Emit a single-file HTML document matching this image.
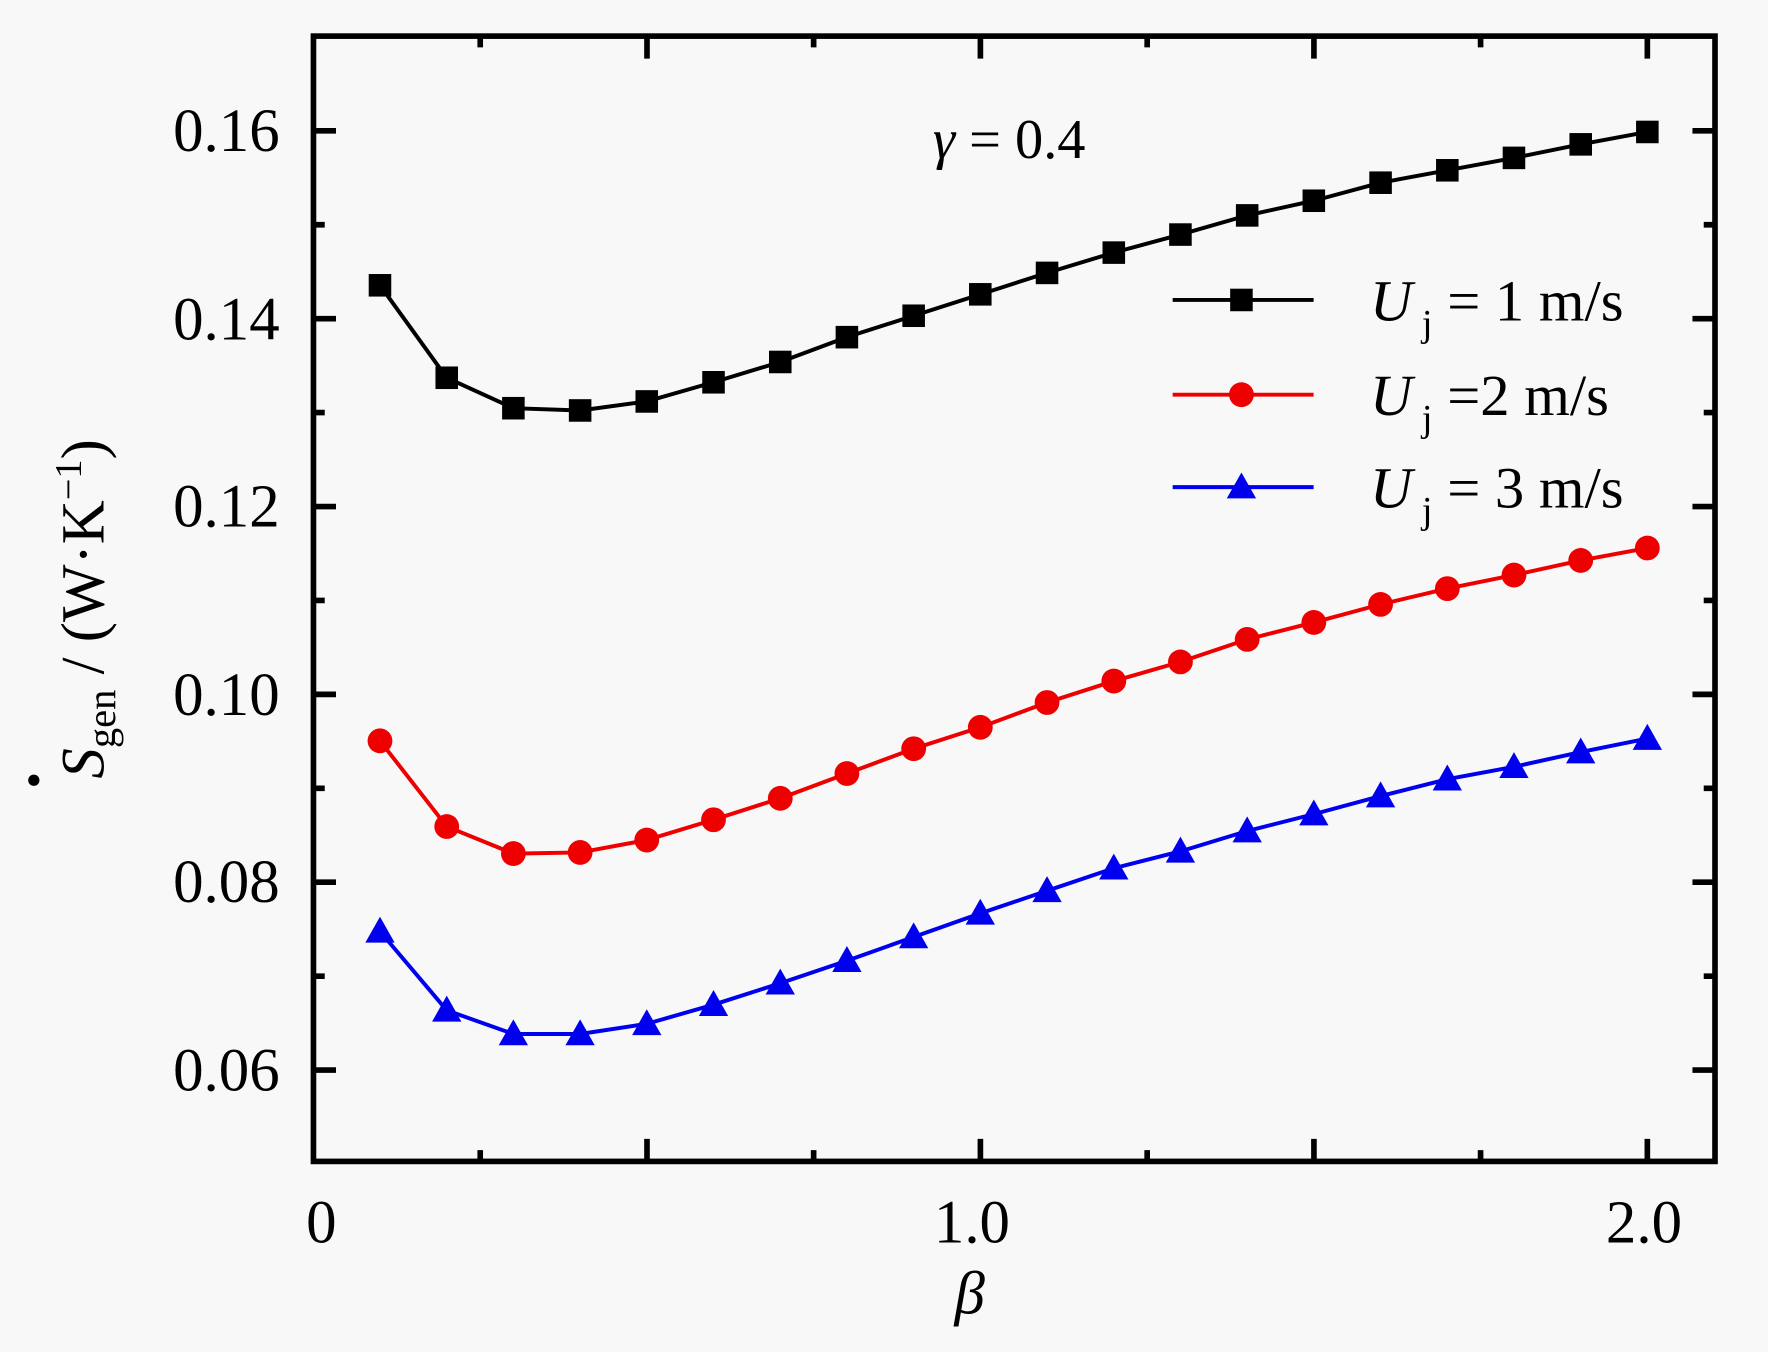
<!DOCTYPE html>
<html><head><meta charset="utf-8"><style>
html,body{margin:0;padding:0;background:#f8f8f8;}
svg{display:block;font-family:"Liberation Serif",serif;}
</style></head><body>
<svg width="1768" height="1352" viewBox="0 0 1568 1199" xmlns="http://www.w3.org/2000/svg">
<defs>
<rect id="sq" x="-10" y="-10" width="20" height="20"/>
<circle id="ci" cx="0" cy="0" r="11"/>
<polygon id="tr" points="0,-13 -13,10 13,10"/>
</defs>
<rect width="1568" height="1199" fill="#f8f8f8"/>
<path stroke="#000" stroke-width="5" fill="none" d="
M425.9,1030V1020 M573.8,1030V1010 M721.6,1030V1020 M869.5,1030V1010 M1017.4,1030V1020 M1165.3,1030V1010 M1313.1,1030V1020 M1461,1030V1010
M425.9,32V42 M573.8,32V52 M721.6,32V42 M869.5,32V52 M1017.4,32V42 M1165.3,32V52 M1313.1,32V42 M1461,32V52
M278,949H298 M278,865.7H288 M278,782.4H298 M278,699.1H288 M278,615.8H298 M278,532.5H288 M278,449.2H298 M278,365.9H288 M278,282.6H298 M278,199.3H288 M278,116H298
M1521,949H1501 M1521,865.7H1511 M1521,782.4H1501 M1521,699.1H1511 M1521,615.8H1501 M1521,532.5H1511 M1521,449.2H1501 M1521,365.9H1511 M1521,282.6H1501 M1521,199.3H1511 M1521,116H1501"/>
<rect x="278" y="32" width="1243" height="998" fill="none" stroke="#000" stroke-width="5"/>

<g fill="none" stroke-width="3.5">
<polyline stroke="#000" points="337,253 396.2,335 455.3,362 514.5,364 573.6,356 632.8,339 692,321 751.1,299 810.3,280 869.4,261 928.6,242 987.8,224 1046.9,208 1106.1,191 1165.2,178 1224.4,162 1283.6,151 1342.7,140 1401.9,128 1461,117"/>
<polyline stroke="#e00" points="337,657 396.2,733 455.3,757 514.5,756 573.6,745 632.8,727 692,708 751.1,686 810.3,664 869.4,645 928.6,623 987.8,604 1046.9,587 1106.1,567 1165.2,552 1224.4,536 1283.6,522 1342.7,510 1401.9,497 1461,486"/>
<polyline stroke="#00e" points="337,826 396.2,896 455.3,917 514.5,917 573.6,908 632.8,891 692,872 751.1,852 810.3,831 869.4,810 928.6,790 987.8,770 1046.9,755 1106.1,737 1165.2,722 1224.4,706 1283.6,691 1342.7,680 1401.9,667 1461,655"/>
<line x1="1040" y1="266" x2="1165" y2="266" stroke="#000"/>
<line x1="1040" y1="350" x2="1165" y2="350" stroke="#e00"/>
<line x1="1040" y1="432" x2="1165" y2="432" stroke="#00e"/>
</g>
<g fill="#000">
<use href="#sq" x="337" y="253"/><use href="#sq" x="396.2" y="335"/><use href="#sq" x="455.3" y="362"/><use href="#sq" x="514.5" y="364"/><use href="#sq" x="573.6" y="356"/><use href="#sq" x="632.8" y="339"/><use href="#sq" x="692" y="321"/><use href="#sq" x="751.1" y="299"/><use href="#sq" x="810.3" y="280"/><use href="#sq" x="869.4" y="261"/><use href="#sq" x="928.6" y="242"/><use href="#sq" x="987.8" y="224"/><use href="#sq" x="1046.9" y="208"/><use href="#sq" x="1106.1" y="191"/><use href="#sq" x="1165.2" y="178"/><use href="#sq" x="1224.4" y="162"/><use href="#sq" x="1283.6" y="151"/><use href="#sq" x="1342.7" y="140"/><use href="#sq" x="1401.9" y="128"/><use href="#sq" x="1461" y="117"/><use href="#sq" x="1101" y="266"/>
</g>
<g fill="#e00">
<use href="#ci" x="337" y="657"/><use href="#ci" x="396.2" y="733"/><use href="#ci" x="455.3" y="757"/><use href="#ci" x="514.5" y="756"/><use href="#ci" x="573.6" y="745"/><use href="#ci" x="632.8" y="727"/><use href="#ci" x="692" y="708"/><use href="#ci" x="751.1" y="686"/><use href="#ci" x="810.3" y="664"/><use href="#ci" x="869.4" y="645"/><use href="#ci" x="928.6" y="623"/><use href="#ci" x="987.8" y="604"/><use href="#ci" x="1046.9" y="587"/><use href="#ci" x="1106.1" y="567"/><use href="#ci" x="1165.2" y="552"/><use href="#ci" x="1224.4" y="536"/><use href="#ci" x="1283.6" y="522"/><use href="#ci" x="1342.7" y="510"/><use href="#ci" x="1401.9" y="497"/><use href="#ci" x="1461" y="486"/><use href="#ci" x="1101" y="350"/>
</g>
<g fill="#00e">
<use href="#tr" x="337" y="826"/><use href="#tr" x="396.2" y="896"/><use href="#tr" x="455.3" y="917"/><use href="#tr" x="514.5" y="917"/><use href="#tr" x="573.6" y="908"/><use href="#tr" x="632.8" y="891"/><use href="#tr" x="692" y="872"/><use href="#tr" x="751.1" y="852"/><use href="#tr" x="810.3" y="831"/><use href="#tr" x="869.4" y="810"/><use href="#tr" x="928.6" y="790"/><use href="#tr" x="987.8" y="770"/><use href="#tr" x="1046.9" y="755"/><use href="#tr" x="1106.1" y="737"/><use href="#tr" x="1165.2" y="722"/><use href="#tr" x="1224.4" y="706"/><use href="#tr" x="1283.6" y="691"/><use href="#tr" x="1342.7" y="680"/><use href="#tr" x="1401.9" y="667"/><use href="#tr" x="1461" y="655"/><use href="#tr" x="1101" y="432"/>
</g>

<g fill="#000" font-size="54" text-anchor="end">
<text x="248" y="134">0.16</text>
<text x="248" y="301">0.14</text>
<text x="248" y="467">0.12</text>
<text x="248" y="634">0.10</text>
<text x="248" y="800">0.08</text>
<text x="248" y="967">0.06</text>
</g>
<g fill="#000" font-size="54" text-anchor="middle">
<text x="285" y="1102">0</text>
<text x="862" y="1102">1.0</text>
<text x="1458" y="1102">2.0</text>
<text x="860" y="1165" font-style="italic">β</text>
<text x="895" y="140" font-size="50"><tspan font-style="italic">γ</tspan> = 0.4</text>
</g>
<text transform="translate(92,540) rotate(-90)" text-anchor="middle" font-size="54" fill="#000"><tspan font-style="italic">S</tspan><tspan font-size="36" dy="10">gen</tspan><tspan dy="-10"> / (W·K</tspan><tspan font-size="34" dy="-20">−1</tspan><tspan dy="20">)</tspan></text>
<circle cx="30" cy="692" r="5" fill="#000"/>
<g font-size="52" fill="#000">
<text x="1215" y="284"><tspan font-style="italic">U</tspan><tspan font-size="34" dy="14"> j</tspan><tspan dy="-14"> = 1 m/s</tspan></text>
<text x="1215" y="368"><tspan font-style="italic">U</tspan><tspan font-size="34" dy="14"> j</tspan><tspan dy="-14"> =2 m/s</tspan></text>
<text x="1215" y="450"><tspan font-style="italic">U</tspan><tspan font-size="34" dy="14"> j</tspan><tspan dy="-14"> = 3 m/s</tspan></text>
</g>
</svg>
</body></html>
